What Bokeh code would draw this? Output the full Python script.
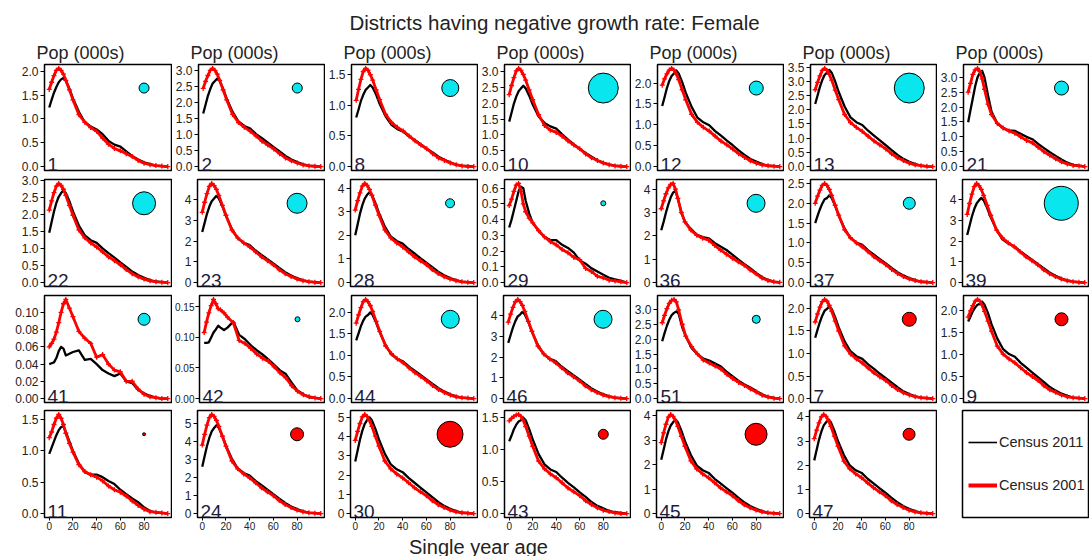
from bokeh.plotting import figure
from bokeh.layouts import column, row
from bokeh.models import Range1d, FixedTicker, PrintfTickFormatter, Label, Legend, LegendItem
from bokeh.embed import file_html
from bokeh.resources import INLINE

AGES = [0, 2, 4, 6, 8, 10, 12, 14, 17, 20, 25, 30, 35, 40, 45, 50, 55, 60, 65, 70, 75, 80, 85, 90, 95, 100]

DISTRICTS = ["1", "2", "8", "10", "12", "13", "21",
             "22", "23", "28", "29", "36", "37", "39",
             "41", "42", "44", "46", "51", "7", "9",
             "11", "24", "30", "43", "45", "47"]

# Census 2011 (black) and Census 2001 (red), population in thousands by age
D1_11 = [1.24, 1.40, 1.55, 1.67, 1.77, 1.83, 1.86, 1.80, 1.64, 1.43, 1.15, 0.93, 0.84, 0.78, 0.68, 0.54, 0.46, 0.42, 0.32, 0.22, 0.15, 0.09, 0.05, 0.02, 0.01, 0.0]
D1_01 = [1.62, 1.77, 1.91, 2.02, 2.06, 2.02, 1.94, 1.81, 1.61, 1.40, 1.09, 0.93, 0.82, 0.74, 0.60, 0.47, 0.38, 0.33, 0.27, 0.21, 0.13, 0.07, 0.04, 0.02, 0.01, 0.0]
D2_11 = [1.65, 1.92, 2.20, 2.41, 2.58, 2.66, 2.74, 2.66, 2.41, 2.11, 1.70, 1.40, 1.26, 1.18, 1.01, 0.88, 0.74, 0.60, 0.47, 0.33, 0.22, 0.14, 0.07, 0.03, 0.01, 0.0]
D2_01 = [2.43, 2.65, 2.83, 2.99, 3.05, 2.99, 2.87, 2.68, 2.38, 2.07, 1.62, 1.37, 1.22, 1.10, 0.95, 0.79, 0.67, 0.55, 0.40, 0.27, 0.18, 0.11, 0.05, 0.02, 0.01, 0.0]
D8_11 = [0.80, 0.93, 1.07, 1.17, 1.25, 1.29, 1.33, 1.29, 1.17, 1.02, 0.82, 0.68, 0.61, 0.57, 0.49, 0.43, 0.36, 0.29, 0.23, 0.16, 0.11, 0.07, 0.03, 0.01, 0.01, 0.0]
D8_01 = [1.08, 1.26, 1.42, 1.55, 1.60, 1.57, 1.50, 1.41, 1.25, 1.09, 0.85, 0.72, 0.64, 0.58, 0.50, 0.42, 0.35, 0.29, 0.21, 0.14, 0.10, 0.06, 0.03, 0.01, 0.0, 0.0]
D10_11 = [1.42, 1.70, 1.99, 2.21, 2.38, 2.47, 2.55, 2.47, 2.24, 1.96, 1.58, 1.38, 1.27, 1.20, 1.02, 0.85, 0.70, 0.56, 0.43, 0.31, 0.20, 0.13, 0.06, 0.03, 0.01, 0.0]
D10_01 = [2.27, 2.56, 2.81, 3.02, 3.10, 3.04, 2.91, 2.73, 2.42, 2.11, 1.64, 1.30, 1.15, 1.08, 0.96, 0.81, 0.68, 0.56, 0.40, 0.28, 0.19, 0.11, 0.06, 0.02, 0.01, 0.0]
D12_11 = [1.45, 1.66, 1.88, 2.05, 2.17, 2.23, 2.30, 2.23, 2.02, 1.77, 1.43, 1.17, 1.06, 0.99, 0.85, 0.74, 0.62, 0.51, 0.39, 0.28, 0.18, 0.12, 0.06, 0.02, 0.01, 0.0]
D12_01 = [1.95, 2.10, 2.22, 2.31, 2.35, 2.31, 2.22, 2.08, 1.84, 1.60, 1.25, 1.06, 0.94, 0.85, 0.73, 0.61, 0.52, 0.42, 0.31, 0.22, 0.14, 0.08, 0.04, 0.02, 0.01, 0.0]
D13_11 = [2.20, 2.50, 2.80, 3.04, 3.22, 3.30, 3.40, 3.30, 2.99, 2.62, 2.11, 1.73, 1.56, 1.46, 1.26, 1.09, 0.92, 0.75, 0.58, 0.41, 0.27, 0.17, 0.09, 0.03, 0.01, 0.0]
D13_01 = [2.70, 2.96, 3.19, 3.38, 3.45, 3.38, 3.24, 3.04, 2.69, 2.35, 1.83, 1.55, 1.38, 1.24, 1.07, 0.90, 0.76, 0.62, 0.45, 0.31, 0.21, 0.12, 0.06, 0.03, 0.01, 0.0]
D21_11 = [1.49, 1.90, 2.30, 2.70, 3.00, 3.15, 3.22, 3.00, 2.40, 1.85, 1.45, 1.28, 1.22, 1.20, 1.10, 1.00, 0.92, 0.76, 0.62, 0.48, 0.36, 0.24, 0.13, 0.06, 0.03, 0.01]
D21_01 = [2.50, 2.80, 3.10, 3.25, 3.30, 3.20, 2.95, 2.60, 2.10, 1.75, 1.45, 1.30, 1.20, 1.12, 1.00, 0.88, 0.80, 0.65, 0.50, 0.38, 0.26, 0.16, 0.09, 0.04, 0.02, 0.0]
D22_11 = [1.46, 1.77, 2.08, 2.33, 2.51, 2.62, 2.70, 2.62, 2.38, 2.08, 1.67, 1.38, 1.24, 1.16, 1.00, 0.86, 0.73, 0.59, 0.46, 0.32, 0.22, 0.14, 0.07, 0.03, 0.01, 0.0]
D22_01 = [2.12, 2.39, 2.63, 2.82, 2.90, 2.84, 2.73, 2.55, 2.26, 1.97, 1.54, 1.31, 1.16, 1.04, 0.90, 0.75, 0.64, 0.52, 0.38, 0.26, 0.17, 0.10, 0.05, 0.02, 0.01, 0.0]
D23_11 = [2.45, 2.89, 3.33, 3.68, 3.94, 4.07, 4.20, 4.07, 3.70, 3.23, 2.60, 2.14, 1.93, 1.81, 1.55, 1.34, 1.13, 0.92, 0.71, 0.50, 0.34, 0.21, 0.11, 0.04, 0.02, 0.0]
D23_01 = [3.40, 3.89, 4.31, 4.66, 4.80, 4.70, 4.51, 4.22, 3.74, 3.26, 2.54, 2.16, 1.92, 1.73, 1.49, 1.25, 1.06, 0.86, 0.62, 0.43, 0.29, 0.17, 0.09, 0.04, 0.01, 0.0]
D28_11 = [2.00, 2.46, 2.92, 3.28, 3.56, 3.72, 3.83, 3.72, 3.37, 2.95, 2.37, 1.95, 1.76, 1.65, 1.42, 1.23, 1.03, 0.84, 0.65, 0.46, 0.31, 0.19, 0.10, 0.04, 0.02, 0.0]
D28_01 = [3.07, 3.47, 3.80, 4.09, 4.20, 4.12, 3.95, 3.70, 3.28, 2.86, 2.23, 1.89, 1.68, 1.51, 1.30, 1.09, 0.92, 0.76, 0.55, 0.38, 0.25, 0.15, 0.08, 0.03, 0.01, 0.0]
D29_11 = [0.35, 0.40, 0.46, 0.52, 0.58, 0.61, 0.60, 0.52, 0.44, 0.38, 0.33, 0.29, 0.27, 0.27, 0.24, 0.22, 0.19, 0.14, 0.12, 0.09, 0.07, 0.05, 0.03, 0.02, 0.01, 0.0]
D29_01 = [0.49, 0.53, 0.58, 0.62, 0.63, 0.58, 0.50, 0.45, 0.41, 0.38, 0.33, 0.29, 0.26, 0.24, 0.21, 0.19, 0.16, 0.145, 0.09, 0.07, 0.04, 0.03, 0.015, 0.01, 0.005, 0.0]
D36_11 = [2.24, 2.60, 3.00, 3.35, 3.65, 3.85, 3.93, 3.60, 3.00, 2.60, 2.30, 2.05, 1.95, 1.90, 1.70, 1.55, 1.40, 1.20, 1.00, 0.80, 0.62, 0.42, 0.25, 0.12, 0.05, 0.01]
D36_01 = [3.16, 3.50, 3.80, 4.05, 4.20, 4.24, 4.00, 3.60, 3.00, 2.60, 2.25, 2.03, 1.90, 1.82, 1.60, 1.40, 1.22, 1.05, 0.90, 0.75, 0.55, 0.38, 0.20, 0.10, 0.04, 0.02]
D37_11 = [1.50, 1.68, 1.85, 1.99, 2.10, 2.13, 2.20, 2.13, 1.94, 1.69, 1.36, 1.12, 1.01, 0.95, 0.81, 0.70, 0.59, 0.48, 0.37, 0.26, 0.18, 0.11, 0.06, 0.02, 0.01, 0.0]
D37_01 = [2.00, 2.18, 2.33, 2.45, 2.50, 2.45, 2.35, 2.20, 1.95, 1.70, 1.33, 1.13, 1.00, 0.90, 0.78, 0.65, 0.55, 0.45, 0.33, 0.23, 0.15, 0.09, 0.05, 0.02, 0.01, 0.0]
D39_11 = [2.30, 2.75, 3.20, 3.56, 3.83, 3.98, 4.10, 3.98, 3.61, 3.16, 2.54, 2.09, 1.89, 1.76, 1.52, 1.31, 1.11, 0.90, 0.70, 0.49, 0.33, 0.21, 0.10, 0.04, 0.02, 0.0]
D39_01 = [3.30, 3.83, 4.28, 4.65, 4.80, 4.70, 4.51, 4.22, 3.74, 3.26, 2.54, 2.16, 1.92, 1.73, 1.49, 1.25, 1.06, 0.86, 0.62, 0.43, 0.29, 0.17, 0.09, 0.04, 0.01, 0.0]
D41_11 = [0.040, 0.041, 0.042, 0.047, 0.055, 0.060, 0.058, 0.050, 0.052, 0.054, 0.056, 0.045, 0.046, 0.040, 0.033, 0.029, 0.026, 0.029, 0.020, 0.018, 0.010, 0.006, 0.003, 0.001, 0.0, 0.0]
D41_01 = [0.060, 0.064, 0.069, 0.077, 0.088, 0.100, 0.110, 0.115, 0.105, 0.095, 0.078, 0.070, 0.064, 0.048, 0.051, 0.040, 0.033, 0.031, 0.020, 0.020, 0.011, 0.005, 0.002, 0.001, 0.0, 0.0]
D42_11 = [0.091, 0.091, 0.092, 0.100, 0.108, 0.113, 0.119, 0.116, 0.112, 0.116, 0.126, 0.104, 0.097, 0.087, 0.079, 0.072, 0.064, 0.055, 0.046, 0.040, 0.026, 0.013, 0.007, 0.002, 0.001, 0.0]
D42_01 = [0.108, 0.125, 0.140, 0.152, 0.162, 0.155, 0.147, 0.145, 0.140, 0.133, 0.124, 0.095, 0.090, 0.082, 0.073, 0.066, 0.061, 0.052, 0.042, 0.034, 0.021, 0.012, 0.006, 0.003, 0.001, 0.0]
D44_11 = [1.35, 1.51, 1.68, 1.81, 1.90, 1.94, 2.00, 1.94, 1.76, 1.54, 1.24, 1.02, 0.92, 0.86, 0.74, 0.64, 0.54, 0.44, 0.34, 0.24, 0.16, 0.10, 0.05, 0.02, 0.01, 0.0]
D44_01 = [1.75, 1.94, 2.11, 2.25, 2.30, 2.25, 2.16, 2.02, 1.79, 1.56, 1.22, 1.04, 0.92, 0.83, 0.71, 0.60, 0.51, 0.41, 0.30, 0.21, 0.14, 0.08, 0.04, 0.02, 0.01, 0.0]
D46_11 = [2.70, 3.08, 3.45, 3.75, 3.98, 4.07, 4.20, 4.07, 3.70, 3.23, 2.60, 2.14, 1.93, 1.81, 1.55, 1.34, 1.13, 0.92, 0.71, 0.50, 0.34, 0.21, 0.11, 0.04, 0.02, 0.0]
D46_01 = [3.70, 4.09, 4.42, 4.69, 4.80, 4.70, 4.51, 4.22, 3.74, 3.26, 2.54, 2.16, 1.92, 1.73, 1.49, 1.25, 1.06, 0.86, 0.62, 0.43, 0.29, 0.17, 0.09, 0.04, 0.01, 0.0]
D51_11 = [1.93, 2.20, 2.45, 2.65, 2.80, 2.88, 2.93, 2.85, 2.40, 2.10, 1.70, 1.50, 1.35, 1.28, 1.18, 1.08, 0.90, 0.75, 0.60, 0.48, 0.38, 0.26, 0.15, 0.07, 0.03, 0.01]
D51_01 = [2.55, 2.80, 3.02, 3.20, 3.30, 3.33, 3.25, 2.98, 2.50, 2.10, 1.75, 1.50, 1.30, 1.20, 1.10, 1.00, 0.82, 0.68, 0.55, 0.45, 0.33, 0.23, 0.12, 0.06, 0.02, 0.01]
D7_11 = [1.35, 1.53, 1.70, 1.84, 1.95, 1.99, 2.05, 1.99, 1.80, 1.58, 1.27, 1.05, 0.94, 0.88, 0.76, 0.66, 0.55, 0.45, 0.35, 0.25, 0.16, 0.10, 0.05, 0.02, 0.01, 0.0]
D7_01 = [1.70, 1.88, 2.03, 2.15, 2.20, 2.16, 2.07, 1.94, 1.72, 1.50, 1.17, 0.99, 0.88, 0.79, 0.68, 0.57, 0.48, 0.40, 0.29, 0.20, 0.13, 0.08, 0.04, 0.02, 0.01, 0.0]
D9_11 = [1.75, 1.86, 1.98, 2.07, 2.13, 2.15, 2.20, 2.13, 1.94, 1.69, 1.36, 1.12, 1.01, 0.95, 0.81, 0.70, 0.59, 0.48, 0.37, 0.26, 0.18, 0.11, 0.06, 0.02, 0.01, 0.0]
D9_01 = [1.85, 1.99, 2.11, 2.21, 2.25, 2.21, 2.12, 1.98, 1.76, 1.53, 1.19, 1.01, 0.90, 0.81, 0.70, 0.59, 0.50, 0.41, 0.29, 0.20, 0.14, 0.08, 0.04, 0.02, 0.01, 0.0]
D11_11 = [0.95, 1.05, 1.15, 1.25, 1.33, 1.38, 1.39, 1.30, 1.15, 1.00, 0.80, 0.66, 0.62, 0.62, 0.58, 0.52, 0.47, 0.38, 0.31, 0.24, 0.18, 0.10, 0.04, 0.02, 0.01, 0.0]
D11_01 = [1.21, 1.30, 1.42, 1.52, 1.58, 1.52, 1.42, 1.28, 1.12, 0.98, 0.78, 0.67, 0.62, 0.58, 0.52, 0.44, 0.38, 0.34, 0.28, 0.20, 0.13, 0.07, 0.03, 0.02, 0.01, 0.0]
D24_11 = [2.60, 3.18, 3.75, 4.21, 4.56, 4.75, 4.90, 4.75, 4.31, 3.77, 3.04, 2.50, 2.25, 2.11, 1.81, 1.57, 1.32, 1.08, 0.83, 0.59, 0.39, 0.25, 0.12, 0.05, 0.02, 0.0]
D24_01 = [3.80, 4.40, 4.91, 5.33, 5.50, 5.39, 5.17, 4.84, 4.29, 3.74, 2.92, 2.48, 2.20, 1.98, 1.71, 1.43, 1.21, 0.99, 0.72, 0.50, 0.33, 0.19, 0.10, 0.04, 0.02, 0.0]
D30_11 = [2.70, 3.28, 3.85, 4.31, 4.66, 4.85, 5.00, 4.85, 4.40, 3.85, 3.10, 2.55, 2.30, 2.15, 1.85, 1.60, 1.35, 1.10, 0.85, 0.60, 0.40, 0.25, 0.13, 0.05, 0.02, 0.0]
D30_01 = [3.80, 4.27, 4.68, 5.02, 5.15, 5.05, 4.84, 4.53, 4.02, 3.50, 2.73, 2.32, 2.06, 1.85, 1.60, 1.34, 1.13, 0.93, 0.67, 0.46, 0.31, 0.18, 0.09, 0.04, 0.02, 0.0]
D43_11 = [1.13, 1.22, 1.32, 1.39, 1.44, 1.46, 1.50, 1.46, 1.32, 1.16, 0.93, 0.77, 0.69, 0.65, 0.56, 0.48, 0.41, 0.33, 0.26, 0.18, 0.12, 0.08, 0.04, 0.02, 0.01, 0.0]
D43_01 = [1.45, 1.49, 1.52, 1.54, 1.55, 1.52, 1.46, 1.36, 1.21, 1.05, 0.82, 0.70, 0.62, 0.56, 0.48, 0.40, 0.34, 0.28, 0.20, 0.14, 0.09, 0.05, 0.03, 0.01, 0.0, 0.0]
D45_11 = [2.20, 2.61, 3.03, 3.36, 3.60, 3.73, 3.85, 3.73, 3.39, 2.96, 2.39, 1.96, 1.77, 1.66, 1.42, 1.23, 1.04, 0.85, 0.65, 0.46, 0.31, 0.19, 0.10, 0.04, 0.02, 0.0]
D45_01 = [2.90, 3.30, 3.65, 3.94, 4.05, 3.97, 3.81, 3.56, 3.16, 2.75, 2.15, 1.82, 1.62, 1.46, 1.26, 1.05, 0.89, 0.73, 0.53, 0.36, 0.24, 0.14, 0.07, 0.03, 0.01, 0.0]
D47_11 = [2.20, 2.63, 3.05, 3.39, 3.65, 3.78, 3.90, 3.78, 3.43, 3.00, 2.42, 1.99, 1.79, 1.68, 1.44, 1.25, 1.05, 0.86, 0.66, 0.47, 0.31, 0.20, 0.10, 0.04, 0.02, 0.0]
D47_01 = [3.10, 3.45, 3.75, 4.00, 4.10, 4.02, 3.85, 3.61, 3.20, 2.79, 2.17, 1.85, 1.64, 1.48, 1.27, 1.07, 0.90, 0.74, 0.53, 0.37, 0.25, 0.14, 0.07, 0.03, 0.01, 0.0]

# growth-rate bubble magnitude and group per district
GROWTH_MAG = [10, 10, 17, 30, 14, 30, 14,
              23, 20, 9, 5, 18, 12, 34,
              12, 5, 18, 18, 8, 14, 13,
              3, 13, 26, 10, 22, 12]
GROWTH_GROUP = ["A"] * 19 + ["B"] * 8

# y-axis tick labels: top tick and step per panel
YTICK_TOP = [2.0, 3.0, 1.5, 3.0, 2.0, 3.5, 3.0,
             3.0, 4, 4, 0.6, 4, 2.5, 4,
             0.10, 0.15, 2.0, 4, 3.0, 2.0, 2.0,
             1.5, 5, 5, 1.5, 4, 4]
YTICK_STEP = [0.5, 0.5, 0.5, 0.5, 0.5, 0.5, 0.5,
              0.5, 1, 1, 0.1, 1, 0.5, 1,
              0.02, 0.05, 0.5, 1, 0.5, 0.5, 0.5,
              0.5, 1, 1, 0.5, 1, 1]
XTICKS = [0, 20, 40, 60, 80]
LEGEND_LABELS = ["Census 2011", "Census 2001"]

SERIES_2011 = [D1_11, D2_11, D8_11, D10_11, D12_11, D13_11, D21_11,
               D22_11, D23_11, D28_11, D29_11, D36_11, D37_11, D39_11,
               D41_11, D42_11, D44_11, D46_11, D51_11, D7_11, D9_11,
               D11_11, D24_11, D30_11, D43_11, D45_11, D47_11]
SERIES_2001 = [D1_01, D2_01, D8_01, D10_01, D12_01, D13_01, D21_01,
               D22_01, D23_01, D28_01, D29_01, D36_01, D37_01, D39_01,
               D41_01, D42_01, D44_01, D46_01, D51_01, D7_01, D9_01,
               D11_01, D24_01, D30_01, D43_01, D45_01, D47_01]

FONT = "Liberation Sans"
TXT = "#222222"
GROUP_COLOR = {"A": "#0AE6EE", "B": "#FF0000"}
FRAME_W = 128
FIRST_LEFT = 44
LEFT = 25
ROW_TOP = [28, 5, 5, 4]
ROW_FRAME = [106, 107, 107, 107]
ROW_BOTTOM = [4, 4, 4, 20]


def base_fig(r, c, x_range, y_range):
    left = FIRST_LEFT if c == 0 else LEFT
    width = left + FRAME_W - (1 if c == 6 else 0)
    height = ROW_TOP[r] + ROW_FRAME[r] + ROW_BOTTOM[r]
    p = figure(width=width, height=height, x_range=x_range, y_range=y_range,
               output_backend="svg", toolbar_location=None,
               min_border_left=left, min_border_right=0,
               min_border_top=ROW_TOP[r], min_border_bottom=ROW_BOTTOM[r],
               outline_line_color="black", outline_line_width=1.5,
               background_fill_color="white", border_fill_color="white")
    p.xgrid.visible = False
    p.ygrid.visible = False
    if r == 0:
        p.title.text = "Pop (000s)"
        p.title.align = "left"
        p.title.offset = -8
        p.title.standoff = 4
        p.title.text_font = FONT
        p.title.text_font_size = "18px"
        p.title.text_font_style = "normal"
        p.title.text_color = TXT
    return p


def make_panel(i, r, c):
    b = SERIES_2011[i]
    rd = SERIES_2001[i]
    ymax = max(max(b), max(rd))
    ymin = min(min(b), min(rd))
    d = ymax - ymin
    y0, y1 = ymin - 0.04 * d, ymax + 0.04 * d
    p = base_fig(r, c, Range1d(-4, 104), Range1d(y0, y1))

    step = YTICK_STEP[i]
    n = int(round(YTICK_TOP[i] / step))
    ticks = [round(k * step, 4) for k in range(n + 1)]
    dec = 0 if step >= 1 else (1 if step >= 0.1 else 2)
    ya = p.yaxis[0]
    ya.ticker = FixedTicker(ticks=ticks)
    ya.formatter = PrintfTickFormatter(format="%." + str(dec) + "f")
    ya.major_label_text_font = FONT
    ya.major_label_text_font_size = "10px" if (dec == 2 and c > 0) else "12px"
    ya.major_label_text_color = TXT
    ya.major_label_standoff = 1 if (dec == 2 and c > 0) else 2
    ya.major_tick_out = 4
    ya.major_tick_in = 0
    ya.minor_tick_out = 0
    ya.minor_tick_in = 0
    ya.axis_line_color = "black"
    ya.major_tick_line_color = "black"

    xa = p.xaxis[0]
    if r == 3:
        xa.ticker = FixedTicker(ticks=XTICKS)
        xa.major_label_text_font = FONT
        xa.major_label_text_font_size = "10px"
        xa.major_label_text_color = TXT
        xa.major_label_standoff = 1
        xa.major_tick_out = 3
        xa.major_tick_in = 0
        xa.minor_tick_out = 0
        xa.minor_tick_in = 0
    else:
        xa.visible = False

    p.line(AGES, b, color="black", line_width=2.3, line_join="round")
    p.line(AGES, rd, color="#FF0000", line_width=2.8, line_join="round")
    p.scatter(AGES, rd, marker="cross", size=5, line_color="#FF0000", line_width=1.3)

    p.scatter([80], [0.8 * ymax], size=GROWTH_MAG[i],
              fill_color=GROUP_COLOR[GROWTH_GROUP[i]], line_color="black", line_width=1)

    p.add_layout(Label(x=-4, y=y0, x_offset=3, y_offset=0, text=DISTRICTS[i],
                       text_font=FONT, text_font_size="19px", text_color="#1c1c3c",
                       text_baseline="bottom", text_align="left"))
    return p


def make_legend(r, c):
    p = base_fig(r, c, Range1d(0, 1), Range1d(0, 1))
    p.xaxis.visible = False
    p.yaxis.visible = False
    nan = float("nan")
    r1 = p.line([nan, nan], [nan, nan], color="black", line_width=1.6)
    r2 = p.line([nan, nan], [nan, nan], color="#FF0000", line_width=4)
    leg = Legend(items=[LegendItem(label=LEGEND_LABELS[0], renderers=[r1]),
                        LegendItem(label=LEGEND_LABELS[1], renderers=[r2])],
                 location=(6, 22), orientation="vertical",
                 glyph_width=29, glyph_height=20, label_height=20,
                 label_standoff=2, spacing=23, padding=0, margin=0,
                 border_line_color=None, background_fill_alpha=0,
                 label_text_font=FONT, label_text_font_size="14.5px",
                 label_text_color=TXT)
    p.add_layout(leg)
    return p


rows = []
k = 0
for r in range(4):
    figs = []
    for c in range(7):
        if k < len(DISTRICTS):
            figs.append(make_panel(k, r, c))
            k += 1
        else:
            figs.append(make_legend(r, c))
    rows.append(row(*figs))

header = figure(width=1089, height=36, x_range=Range1d(0, 1089), y_range=Range1d(0, 36),
                output_backend="svg", toolbar_location=None, min_border=0,
                outline_line_color=None)
header.axis.visible = False
header.grid.visible = False
header.add_layout(Label(x=554, y=14, text="Districts having negative growth rate: Female",
                        text_align="center", text_baseline="middle", text_font=FONT,
                        text_font_size="20.5px", text_color=TXT))

footer = figure(width=1089, height=19, x_range=Range1d(0, 1089), y_range=Range1d(0, 19),
                output_backend="svg", toolbar_location=None, min_border=0,
                outline_line_color=None)
footer.axis.visible = False
footer.grid.visible = False
footer.add_layout(Label(x=478, y=10, text="Single year age",
                        text_align="center", text_baseline="middle", text_font=FONT,
                        text_font_size="20px", text_color=TXT))

layout = column(header, *rows, footer)
open("out.html", "w").write(file_html(layout, INLINE))
